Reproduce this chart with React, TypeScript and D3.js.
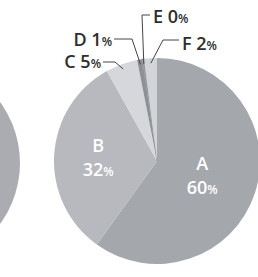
import React, { useRef, useEffect } from 'react';
import * as d3 from 'd3';

const categories = ['A', 'B', 'C', 'D', 'E', 'F'];
const values = [60, 32, 5, 0.8, 0.3, 2];
const labels = ['60', '32', '5', '1', '0', '2'];
const colors = ['#a4a7ac', '#b7b9be', '#d5d7db', '#8d9095', '#9a9ca1', '#d2d4d8'];

// callout layout for the small slices: elbow point and label anchor
const callouts: Record<string, { ex: number; ey: number; tx: number; ty: number; anchor: string }> = {
  C: { ex: 115, ey: 62, tx: 102, ty: 68, anchor: 'end' },
  D: { ex: 132, ey: 39, tx: 113, ty: 46, anchor: 'end' },
  E: { ex: 142, ey: 15, tx: 152, ty: 23, anchor: 'start' },
  F: { ex: 163, ey: 40, tx: 181, ty: 50, anchor: 'start' },
};

function App() {
  const ref = useRef<SVGSVGElement>(null);
  const width = 258, height = 277;
  const cx = 157, cy = 161, r = 103;

  useEffect(() => {
    const svg = d3.select(ref.current);
    svg.selectAll('*').remove();

    // the neighbouring pie, cut off at the left edge
    svg.append('circle')
      .attr('cx', cx - 240).attr('cy', cy + 2).attr('r', r)
      .attr('fill', '#aaacb1');

    const data = categories.map((c, i) => ({ name: c, value: values[i], label: labels[i], color: colors[i] }));
    const pie = d3.pie<any>().sort(null).value((d) => d.value);
    const arcs = pie(data);
    const arc = d3.arc<any>().innerRadius(0).outerRadius(r);

    const g = svg.append('g').attr('transform', `translate(${cx},${cy})`);
    g.selectAll('path').data(arcs).enter().append('path')
      .attr('d', arc)
      .attr('fill', (d) => d.data.color)
      .attr('stroke', (d) => (d.data.name === 'E' ? '#8d9095' : 'none'))
      .attr('stroke-width', 0.6);

    const font = '"Open Sans", "Noto Sans", sans-serif';

    // inner labels
    arcs.filter((d) => d.data.name === 'A' || d.data.name === 'B').forEach((d) => {
      const inner = d3.arc<any>().innerRadius(0).outerRadius(d.data.name === 'A' ? 95 : 118);
      const [x, y] = inner.centroid(d);
      const t = g.append('text')
        .attr('text-anchor', 'middle')
        .attr('fill', '#ffffff')
        .attr('font-family', font)
        .attr('font-weight', 600)
        .attr('font-size', 18);
      t.append('tspan').attr('x', x).attr('y', y - 6).text(d.data.name);
      const l2 = t.append('tspan').attr('x', x).attr('y', y + 18);
      l2.append('tspan').text(d.data.label);
      l2.append('tspan').attr('font-size', 12).text('%');
    });

    // callouts
    arcs.filter((d) => callouts[d.data.name]).forEach((d) => {
      const c = callouts[d.data.name];
      const mid = (d.startAngle + d.endAngle) / 2;
      const sx = cx + (r - 5) * Math.sin(mid);
      const sy = cy - (r - 5) * Math.cos(mid);
      const hx = c.anchor === 'end' ? c.tx + 1 : c.tx - 2;
      svg.append('polyline')
        .attr('points', `${sx},${sy} ${c.ex},${c.ey} ${hx},${c.ey}`)
        .attr('fill', 'none')
        .attr('stroke', '#444')
        .attr('stroke-width', 1);
      const t = svg.append('text')
        .attr('x', c.anchor === 'end' ? c.tx - 1 : c.tx + 1)
        .attr('y', c.ty)
        .attr('text-anchor', c.anchor)
        .attr('fill', '#2e2e2e')
        .attr('font-family', font)
        .attr('font-weight', 600)
        .attr('font-size', 18);
      t.append('tspan').text(`${d.data.name} ${d.data.label}`);
      t.append('tspan').attr('font-size', 12).text('%');
    });
  }, []);

  return (
    <div style={{ position: 'absolute', left: 0, top: 0 }}>
      <svg ref={ref} width={width} height={height} style={{ display: 'block', background: '#fff' }} />
    </div>
  );
}

export default App;
